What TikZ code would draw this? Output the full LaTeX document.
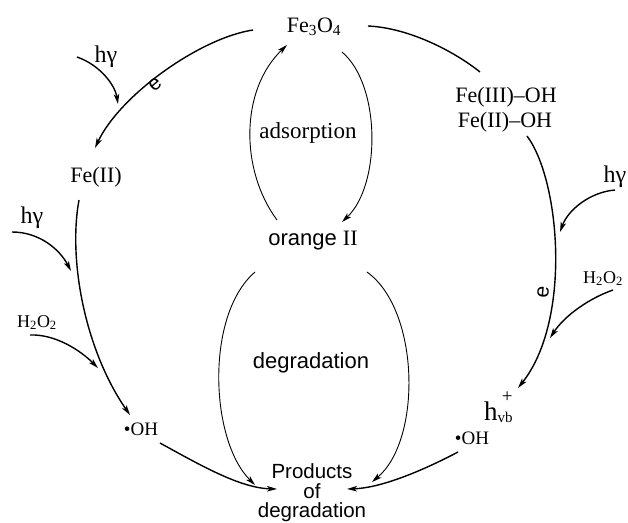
\documentclass[tikz,border=0pt]{standalone}
\usepackage{fontspec}
\setmainfont{Liberation Serif}
\setsansfont{Liberation Sans}
\usetikzlibrary{arrows.meta,calc}
\begin{document}
\begin{tikzpicture}[x=1pt,y=-1pt,
  lbl/.style={inner sep=0pt,anchor=base,font=\fontsize{22}{24}\selectfont},
  big/.style={inner sep=0pt,anchor=base,font=\fontsize{24}{26}\selectfont},
  small/.style={inner sep=0pt,anchor=base,font=\fontsize{18}{20}\selectfont},
  sans/.style={inner sep=0pt,anchor=base,font=\sffamily\fontsize{22}{24}\selectfont},
  prodtext/.style={inner sep=0pt,anchor=base,font=\sffamily\fontsize{20.5}{20}\selectfont},
  elabel/.style={inner sep=0pt,font=\sffamily\fontsize{21}{22}\selectfont},
  arc/.style={line width=1.4pt},
  thin/.style={line width=0.9pt},
  arr/.style={-{Stealth[length=10pt,width=5.5pt,inset=2.5pt]}}]
\fill[white] (0,0) rectangle (628,522);
\useasboundingbox (0,0) rectangle (628,522);

% nodes
\node[lbl] (fe3o4) at (314,32) {Fe\textsubscript{3}O\textsubscript{4}};
\node[lbl] (feii) at (96,182) {Fe(II)};
\node[lbl] (feiiioh) at (506,102) {Fe(III)--OH};
\node[lbl] (feiioh) at (505,127) {Fe(II)--OH};
\node[lbl,font=\fontsize{23}{25}\selectfont] (ads) at (308,138) {adsorption};
\node[sans] (orange) at (313,245) {orange {\rmfamily II}};
\node[sans] (degr) at (311,368) {degradation};
\node[prodtext] (p1) at (312,478) {Products};
\node[prodtext] (p2) at (312,498) {of};
\node[prodtext] (p3) at (312,517) {degradation};
\node[small,font=\fontsize{19}{21}\selectfont] (ohl) at (141,435) {\textbullet OH};
\node[small,font=\fontsize{19}{21}\selectfont] (ohr) at (472,444) {\textbullet OH};
\node[inner sep=0pt,anchor=base west,font=\fontsize{27}{29}\selectfont] (hvb) at (484,420)
  {h{\fontsize{15}{15}\selectfont\raisebox{-2pt}{vb}}\llap{\raisebox{18pt}{\fontsize{19}{19}\selectfont +}}};
\node[big] (hg1) at (106,62) {hγ};
\node[big] (hg2) at (32,223) {hγ};
\node[big] (hg3) at (615,182) {hγ};
\node[small] (h2o2l) at (37,327) {H\textsubscript{2}O\textsubscript{2}};
\node[small] (h2o2r) at (603,283) {H\textsubscript{2}O\textsubscript{2}};
\node[elabel,rotate=40] (el) at (155,84) {e};
\node[elabel,rotate=85] (er) at (543,292) {e};

% junction points on the big arcs
\coordinate (j1) at (118,104);
\coordinate (j2) at (560,232);
\coordinate (j3) at (550,338);
\coordinate (j4) at (71,271);
\coordinate (j5) at (98,368);

% outer cycle
\draw[arc,arr] ($(fe3o4.base)+(-61,-2)$) .. controls (200,38) and (120,95) .. ($(feii.base)+(-1,-34)$);
\draw[arc] ($(fe3o4.base)+(54,-6)$) .. controls (410,28) and (455,52) .. ($(feiiioh.base)+(-26,-30)$);
\draw[arc,arr] ($(feiioh.base)+(22,9)$) .. controls (560,180) and (572,320) .. ($(hvb.base west)+(34,-32)$);
\draw[arc,arr] ($(feii.base)+(-17,18)$) .. controls (68,260) and (85,350) .. ($(ohl.base)+(-11,-20)$);
\draw[arc,arr] ($(ohl.base)+(19,8)$) .. controls (200,465) and (240,488) .. ($(p2.base)+(-35,-9)$);
\draw[arc,arr] ($(ohr.base)+(-14,8)$) .. controls (420,472) and (380,488) .. ($(p2.base)+(35,-9)$);

% inputs
\draw[arc,arr] ($(hg1.base)+(-29,-5)$) .. controls (100,65) and (115,85) .. (j1);
\draw[arc,arr] ($(hg2.base)+(-20,9)$) .. controls (40,232) and (60,250) .. (j4);
\draw[arc,arr] ($(h2o2l.base)+(-7,8)$) .. controls (55,334) and (80,350) .. (j5);
\draw[arc,arr] ($(hg3.base)+(0,8)$) .. controls (590,192) and (568,210) .. (j2);
\draw[arc,arr] ($(h2o2r.base)+(10,7)$) .. controls (590,298) and (565,315) .. (j3);

% inner arcs
\draw[thin,arr] ($(orange.base)+(-36,-25)$) .. controls (240,170) and (240,90) .. ($(fe3o4.base)+(-27,13)$);
\draw[thin,arr] ($(fe3o4.base)+(28,20)$) .. controls (381,85) and (381,185) .. ($(orange.base)+(29,-23)$);
\draw[thin,arr] ($(orange.base)+(-58,27)$) .. controls (205,315) and (210,440) .. ($(p1.base)+(-57,7)$);
\draw[thin,arr] ($(orange.base)+(54,27)$) .. controls (420,310) and (422,440) .. ($(p1.base)+(60,4)$);
\end{tikzpicture}
\end{document}
